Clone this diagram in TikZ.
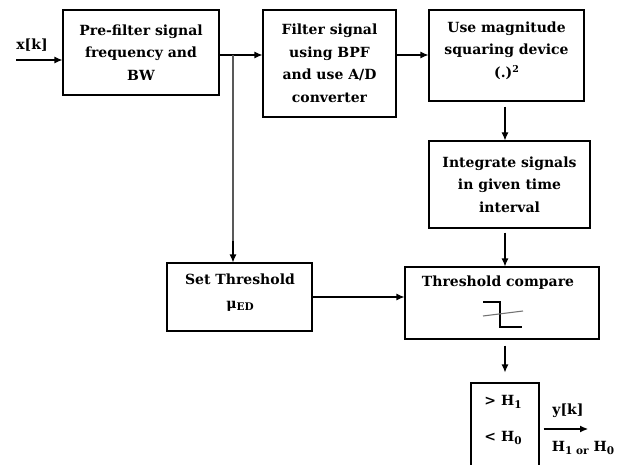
\documentclass[tikz,border=0pt]{standalone}
\usepackage{fontspec}
\setmainfont{DejaVu Serif}
\usetikzlibrary{arrows.meta}
\newcommand{\sbs}[1]{\raisebox{-0.35ex}{\fontsize{10.5}{10.5}\selectfont #1}}
\newcommand{\sps}[1]{\raisebox{0.7ex}{\fontsize{9.5}{9.5}\selectfont #1}}
\begin{document}
\begin{tikzpicture}[x=1pt,y=-1pt,
  box/.style={draw,line width=1.1pt,rectangle,inner sep=2pt,align=center,
    font=\bfseries\fontsize{14}{22.5}\selectfont},
  lbl/.style={inner sep=0pt,align=center,font=\bfseries\fontsize{14}{22.5}\selectfont},
  arr/.style={line width=1.1pt,-{Latex[length=8pt,width=7pt]}},
  ln/.style={line width=1.1pt}]
\useasboundingbox (0,0) rectangle (626,465);
\clip (0,0) rectangle (626,465);
\node[box,minimum width=156pt,minimum height=85pt] (pre) at (141,52.5)
  {Pre-filter signal\\frequency and\\BW};
\node[box,minimum width=133pt,minimum height=107pt] (bpf) at (329.5,63.5)
  {Filter signal\\using BPF\\and use A/D\\converter};
\node[box,minimum width=155pt,minimum height=91pt] (sq) at (506.5,55.5) {};
\node[lbl] (sqt) at (506.5,50.5) {Use magnitude\\squaring device\\(.)\sps{2}};
\node[box,minimum width=161pt,minimum height=87pt] (int) at (509.5,184.5)
  {Integrate signals\\in given time\\interval};
\node[box,minimum width=145pt,minimum height=68pt] (set) at (239.5,297) {};
\node[lbl] (sett) at (240,279) {Set Threshold};
\node[lbl] (mu) at (240,306) {μ\sbs{ED}};
\node[box,minimum width=194pt,minimum height=72pt] (tc) at (502,303) {};
\node[lbl] (tct) at (498,283) {Threshold compare};
\node[box,minimum width=68pt,minimum height=100pt] (dec) at (505,433) {};
\node[lbl] (h1) at (503,402) {> H\sbs{1}};
\node[lbl] (h0) at (503,438) {< H\sbs{0}};
\node[lbl] (yk) at (568,411) {y[k]};
\node[lbl] (hor) at (583,448) {H\sbs{1 or} H\sbs{0}};
\node[lbl] (xk) at (32,45) {x[k]};
% threshold symbol
\draw[line width=1.1pt] (483,302) -- (500,302) -- (500,327) -- (522,327);
\draw[line width=1.1pt,black!55] (483,316) -- (523,311);
% connectors
\coordinate (in) at (16,60);
\coordinate (j) at (233,55);
\coordinate (col) at (505,0);
\coordinate (out) at (588,429);
\draw[arr] (in) -- (in -| pre.west);
\draw[arr] (pre.east |- j) -- (bpf.west |- j);
\draw[ln,black!65] (j) -- ([yshift=20pt]j |- set.north);
\draw[arr] ([yshift=21pt]j |- set.north) -- (j |- set.north);
\draw[arr] (bpf.east |- j) -- (sq.west |- j);
\draw[arr,shorten <=5pt] (col |- sq.south) -- (col |- int.north);
\draw[arr,shorten <=4pt] (col |- int.south) -- (col |- tc.north);
\draw[arr] (set.east) -- (set.east -| tc.west);
\draw[arr,shorten <=6pt,shorten >=10pt] (col |- tc.south) -- (col |- dec.north);
\draw[arr,shorten <=4pt] (dec.east |- out) -- (out);
\end{tikzpicture}
\end{document}
